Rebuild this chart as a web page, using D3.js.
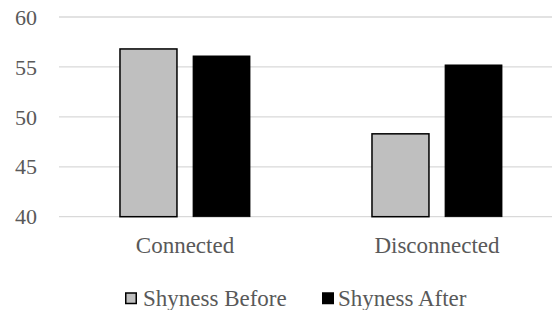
<html><head><script src="https://cdn.jsdelivr.net/npm/d3@7"></script></head>
<body style="margin:0">
<svg id="mysvg"></svg>
<script>
// data
const categories = ["Connected", "Disconnected"];
const seriesNames = ["Shyness Before", "Shyness After"];
const shynessBefore = [56.8, 48.3];
const shynessAfter = [56.1, 55.2];
const yTicks = [40, 45, 50, 55, 60];

const seriesColors = ["#bfbfbf", "#000000"];
const font = '"Liberation Serif"';

const width = 552, height = 310;
const margin = { top: 17, left: 59, bottom: 93 };

const svg = d3.select("#mysvg").attr("width", width).attr("height", height)
  .style("font-family", font);

const x0 = d3.scaleBand()
  .domain(categories)
  .range([margin.left, margin.left + 504])
  .paddingInner(0.484)
  .paddingOuter(0.242);

const x1 = d3.scaleBand()
  .domain(seriesNames)
  .range([0, x0.bandwidth()])
  .paddingInner(0.22);

const y = d3.scaleLinear()
  .domain([40, 60])
  .range([height - margin.bottom - 0.3, margin.top]);

// gridlines
svg.selectAll(".grid").data(yTicks).join("line")
  .attr("class", "grid")
  .attr("x1", margin.left).attr("x2", width)
  .attr("y1", d => y(d)).attr("y2", d => y(d))
  .attr("stroke", "#d9d9d9").attr("stroke-width", 1.3);

// y tick labels
svg.selectAll(".ylab").data(yTicks).join("text")
  .attr("class", "ylab")
  .attr("x", 37).attr("y", d => y(d))
  .attr("dy", "0.35em")
  .attr("text-anchor", "end")
  .style("fill", "#595959")
  .style("font-family", font)
  .style("font-size", "22px")
  .text(d => d);

// bars
const values = [shynessBefore, shynessAfter];
seriesNames.forEach((s, i) => {
  svg.selectAll(".bar" + i).data(categories).join("rect")
    .attr("class", "bar" + i)
    .attr("x", c => x0(c) + x1(s))
    .attr("width", x1.bandwidth())
    .attr("y", (c, j) => y(values[i][j]))
    .attr("height", (c, j) => y(40) - y(values[i][j]))
    .attr("fill", seriesColors[i])
    .attr("stroke", "#000")
    .attr("stroke-width", i === 0 ? 1.5 : 0.8);
});

// category labels
svg.selectAll(".xlab").data(categories).join("text")
  .attr("class", "xlab")
  .attr("x", c => x0(c) + x0.bandwidth() / 2)
  .attr("y", 253)
  .attr("text-anchor", "middle")
  .style("fill", "#595959")
  .style("font-family", font)
  .style("font-size", "23px")
  .text(c => c);

// legend
const legendX = [125, 322];
const legend = svg.selectAll(".legend").data(seriesNames).join("g")
  .attr("class", "legend")
  .attr("transform", (d, i) => `translate(${legendX[i]},0)`);
legend.append("rect")
  .attr("x", 0.75).attr("y", 293)
  .attr("width", 10.5).attr("height", 10.5)
  .attr("fill", (d, i) => seriesColors[i])
  .attr("stroke", "#000").attr("stroke-width", 1.5);
legend.append("text")
  .attr("x", (d, i) => i === 0 ? 18 : 16)
  .attr("y", 306)
  .style("fill", "#595959")
  .style("font-family", font)
  .style("font-size", "23px")
  .text(d => d);
</script>
</body>
</html>
